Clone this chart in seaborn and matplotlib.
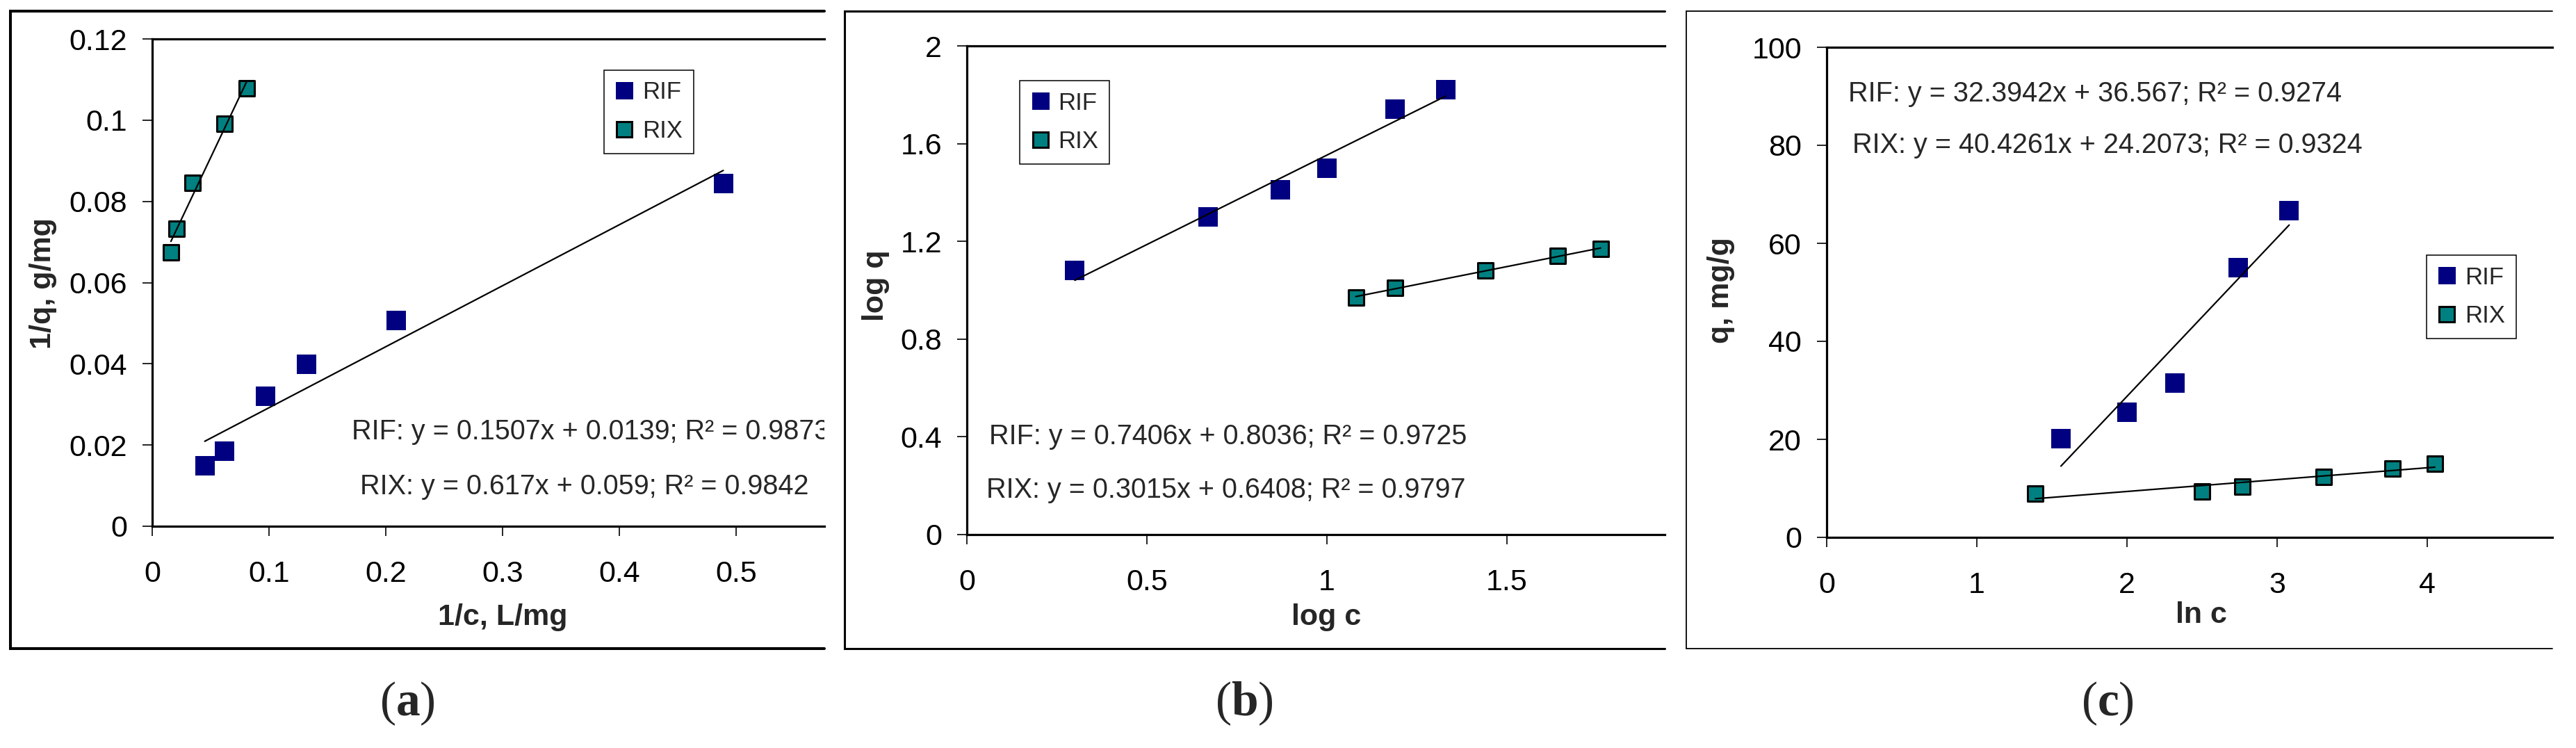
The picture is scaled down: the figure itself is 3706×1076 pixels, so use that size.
import pandas as pd
import matplotlib
matplotlib.use('Agg')
import matplotlib.pyplot as plt
import seaborn as sns
from matplotlib.lines import Line2D
from matplotlib.ticker import FuncFormatter, MultipleLocator

# (a) 1/q vs 1/c
a_rif_x = [0.045, 0.062, 0.097, 0.132, 0.209, 0.489]
a_rif_y = [0.0149, 0.0185, 0.0320, 0.0399, 0.0506, 0.0844]
a_rix_x = [0.016, 0.021, 0.0345, 0.062, 0.081]
a_rix_y = [0.0675, 0.0732, 0.0846, 0.0991, 0.1079]
a_eqs = ['RIF: y = 0.1507x + 0.0139; R² = 0.9873',
         'RIX: y = 0.617x + 0.059; R² = 0.9842']

# (b) log q vs log c
b_rif_x = [0.30, 0.67, 0.87, 1.00, 1.19, 1.33]
b_rif_y = [1.08, 1.30, 1.41, 1.50, 1.74, 1.82]
b_rix_x = [1.08, 1.19, 1.44, 1.64, 1.76]
b_rix_y = [0.97, 1.01, 1.08, 1.14, 1.17]
b_eqs = ['RIF: y = 0.7406x + 0.8036; R² = 0.9725',
         'RIX: y = 0.3015x + 0.6408; R² = 0.9797']

# (c) q vs ln c
c_rif_x = [1.56, 2.00, 2.32, 2.74, 3.08]
c_rif_y = [20.1, 25.6, 31.5, 55.0, 66.7]
c_rix_x = [1.39, 2.50, 2.77, 3.31, 3.77, 4.05]
c_rix_y = [9.0, 9.4, 10.4, 12.3, 14.0, 15.1]
c_eqs = ['RIF: y = 32.3942x + 36.567; R² = 0.9274',
         'RIX: y = 40.4261x + 24.2073; R² = 0.9324']

NAVY = '#000080'
TEAL = '#008080'
W, H = 3706, 1076

sns.set_style('white')
plt.rcParams['font.family'] = ['Liberation Sans', 'DejaVu Sans']
plt.rcParams['mathtext.fontset'] = 'custom'
plt.rcParams['mathtext.rm'] = 'Liberation Serif'
plt.rcParams['mathtext.bf'] = 'Liberation Serif:bold'

fig = plt.figure(figsize=(W / 100, H / 100), dpi=100)


def box(l, r, t, b):
    return [l / W, 1 - b / H, (r - l) / W, (b - t) / H]


def frame(x0, x1, y0, y1, lw):
    xs = [x1, x0, x0, x1]
    ys = [y0, y0, y1, y1]
    fig.add_artist(Line2D([x / W for x in xs], [1 - y / H for y in ys],
                          color='black', lw=lw, transform=fig.transFigure,
                          solid_joinstyle='miter'))


def panel(ax, rif_x, rif_y, rix_x, rix_y):
    rif = pd.DataFrame({'x': rif_x, 'y': rif_y})
    rix = pd.DataFrame({'x': rix_x, 'y': rix_y})
    sns.scatterplot(data=rif, x='x', y='y', marker='s', s=400, color=NAVY,
                    linewidth=0, ax=ax, zorder=3)
    sns.scatterplot(data=rix, x='x', y='y', marker='s', s=250, color=TEAL,
                    edgecolor='black', linewidth=2.2, ax=ax, zorder=3)
    for d in (rif, rix):
        sns.regplot(data=d, x='x', y='y', scatter=False, ci=None, truncate=True,
                    color='black', line_kws={'linewidth': 1.6, 'zorder': 4}, ax=ax)


def style(ax, xmax, ymax, xstep, ystep, xlabel, ylabel, xlab, ylab):
    ax.set_xlim(0, xmax)
    ax.set_ylim(0, ymax)
    ax.xaxis.set_major_locator(MultipleLocator(xstep))
    ax.yaxis.set_major_locator(MultipleLocator(ystep))
    fmt = FuncFormatter(lambda v, p: '%g' % round(v, 6))
    ax.xaxis.set_major_formatter(fmt)
    ax.yaxis.set_major_formatter(fmt)
    ax.tick_params(direction='out', length=10, width=1.2, labelsize=31,
                   color='black', labelcolor='black', left=True, bottom=True)
    ax.tick_params(axis='x', pad=25)
    ax.tick_params(axis='y', pad=16)
    for s in ['left', 'top', 'bottom']:
        ax.spines[s].set_linewidth(2.3)
        ax.spines[s].set_color('black')
    ax.spines['right'].set_visible(False)
    ax.set_xlabel(xlabel, fontsize=31, fontweight='bold')
    ax.set_ylabel(ylabel, fontsize=31, fontweight='bold')
    ax.xaxis.set_label_coords(*xlab)
    ax.yaxis.set_label_coords(*ylab)
    ax.xaxis.label.set_va('center')
    ax.yaxis.label.set_va('center')


def equations(ax, eqs, pos):
    for s, (x, y) in zip(eqs, pos):
        ax.text(x, y, s, transform=ax.transAxes, fontsize=28.5, ha='left',
                va='center', clip_on=True)


def legend(ax, pos):
    handles = [
        Line2D([], [], marker='s', ls='none', markersize=18, markerfacecolor=NAVY,
               markeredgewidth=0, label='RIF'),
        Line2D([], [], marker='s', ls='none', markersize=16, markerfacecolor=TEAL,
               markeredgecolor='black', markeredgewidth=2.2, label='RIX'),
    ]
    leg = ax.legend(handles=handles, loc='upper left', bbox_to_anchor=pos,
                    borderaxespad=0, fontsize=25, frameon=True, fancybox=False,
                    edgecolor='black', framealpha=1, handlelength=0.8,
                    handletextpad=0.35, borderpad=0.45, labelspacing=0.65)
    leg.get_frame().set_linewidth(1.1)


# panel frames
frame(15, 1186, 16, 933, 2.9)
frame(1215, 2395, 16, 933, 2.2)
frame(2426, 3672, 16, 933, 1.3)

# (a)
ax1 = fig.add_axes(box(219, 1186, 56, 757))
panel(ax1, a_rif_x, a_rif_y, a_rix_x, a_rix_y)
style(ax1, 0.5756, 0.12, 0.1, 0.02, '1/c, L/mg', '1/q, g/mg',
      (0.521, -0.187), (-0.162, 0.498))
equations(ax1, a_eqs, [(0.297, 0.194), (0.309, 0.081)])
legend(ax1, (0.672, 0.936))

# (b)
ax2 = fig.add_axes(box(1391, 2395, 66, 769))
panel(ax2, b_rif_x, b_rif_y, b_rix_x, b_rix_y)
style(ax2, 1.938, 2, 0.5, 0.4, 'log c', 'log q',
      (0.515, -0.169), (-0.130, 0.509))
equations(ax2, b_eqs, [(0.032, 0.201), (0.028, 0.091)])
legend(ax2, (0.0757, 0.929))

# (c)
ax3 = fig.add_axes(box(2628, 3672, 68, 773))
panel(ax3, c_rif_x, c_rif_y, c_rix_x, c_rix_y)
style(ax3, 4.833, 100, 1, 20, 'ln c', 'q, mg/g',
      (0.516, -0.159), (-0.146, 0.504))
equations(ax3, c_eqs, [(0.030, 0.905), (0.035, 0.800)])
legend(ax3, (0.8266, 0.576))

for lab, x in [('a', 586), ('b', 1790), ('c', 3032)]:
    fig.text(x / W, 1 - 1012 / H, r'($\mathbf{%s}$)' % lab, fontsize=50,
             family='Liberation Serif', ha='center', va='center')

fig.savefig('out.png', dpi=100)
